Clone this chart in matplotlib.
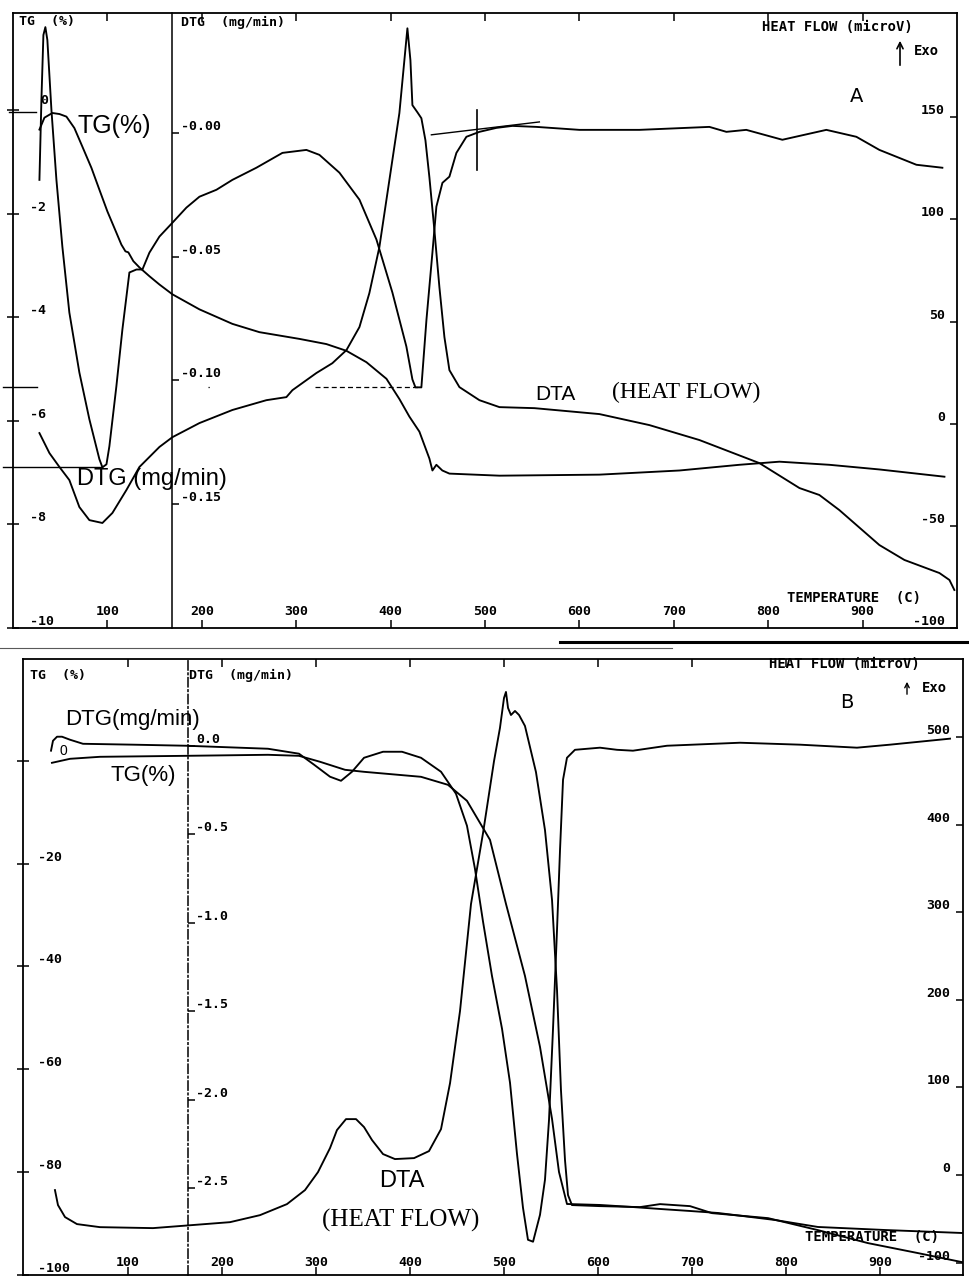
import matplotlib.pyplot as plt
from matplotlib.lines import Line2D
from matplotlib.patches import FancyArrowPatch

plt.rcParams['font.family'] = 'DejaVu Sans Mono'

W, H = 970, 1280

# ---------------- sample A ----------------
a_tg_temp = [28.0, 33.3, 41.7, 49.2, 56.6, 65.0, 73.5, 83.1, 91.5, 100.0, 109.5, 114.8, 119.1,
             122.2, 127.5, 133.9, 144.5, 155.1, 168.9, 197.5, 232.4, 261.0, 303.4, 332.0, 353.2,
             374.4, 395.6, 409.3, 419.9, 430.5, 441.1, 444.3, 448.5, 454.8, 462.3, 515.3, 621.2,
             706.0, 769.5, 811.9, 864.8, 917.8, 986.7]
a_tg = [-0.38, -0.15, -0.06, -0.08, -0.13, -0.35, -0.71, -1.12, -1.54, -1.96, -2.37, -2.60, -2.73,
        -2.75, -2.92, -3.04, -3.21, -3.37, -3.56, -3.85, -4.13, -4.29, -4.42, -4.52, -4.65,
        -4.87, -5.19, -5.58, -5.92, -6.21, -6.73, -6.96, -6.85, -6.96, -7.02, -7.06, -7.04,
        -6.96, -6.85, -6.79, -6.85, -6.94, -7.08]

a_dtg_temp = [28.0, 30.1, 32.2, 34.3, 36.4, 40.7, 46.0, 52.3, 59.7, 70.3, 80.9, 91.5, 94.7, 99.0,
              102.1, 109.5, 115.9, 123.3, 130.8, 137.1, 144.5, 155.1, 168.9, 183.7, 197.5, 215.5,
              232.4, 257.8, 285.4, 310.8, 324.6, 345.8, 367.0, 385.0, 401.9, 416.7, 423.1, 426.3,
              432.6, 438.0, 444.3, 448.5, 454.9, 462.3, 469.7, 480.3, 494.1, 512.1, 529.0, 554.4,
              600.0, 663.6, 737.7, 755.7, 776.8, 815.0, 861.6, 893.4, 917.8, 957.0, 984.5]
a_dtg = [-0.0190, 0.0133, 0.0395, 0.0427, 0.0375, 0.0093, -0.0190, -0.0460, -0.0726, -0.0968,
         -0.1157, -0.1318, -0.1351, -0.1339, -0.1266, -0.1024, -0.0794, -0.0564, -0.0552, -0.0552,
         -0.0484, -0.0419, -0.0363, -0.0302, -0.0258, -0.0230, -0.0190, -0.0141, -0.0081, -0.0069,
         -0.0089, -0.0161, -0.0270, -0.0431, -0.0645, -0.0863, -0.0996, -0.1028, -0.1028, -0.0754,
         -0.0484, -0.0298, -0.0202, -0.0177, -0.0081, -0.0016, 0.0004, 0.0020, 0.0028, 0.0024,
         0.0012, 0.0012, 0.0024, 0.0004, 0.0012, -0.0028, 0.0012, -0.0016, -0.0069, -0.0129, -0.0141]

a_dta_temp = [28.0, 38.6, 49.2, 59.7, 70.3, 80.9, 94.7, 105.3, 120.1, 133.9, 155.1, 168.9, 197.5,
              232.4, 268.4, 289.6, 296.0, 321.4, 338.3, 353.2, 367.0, 377.5, 388.1, 398.7, 409.3,
              414.6, 417.8, 421.0, 423.1, 428.4, 432.6, 436.9, 441.1, 446.4, 451.7, 457.0, 462.3,
              472.9, 494.1, 515.3, 552.4, 621.2, 674.2, 727.1, 790.7, 833.1, 854.2, 875.4, 917.8,
              944.3, 981.4, 992.0, 997.2]
a_dta = [-4.6, -14.4, -21.2, -27.6, -40.8, -47.2, -48.6, -43.7, -32.5, -21.2, -11.4, -6.6, 0.3,
         6.7, 11.5, 13.0, 16.4, 24.8, 29.6, 36.0, 47.3, 63.9, 86.4, 119.2, 152.0,
         177.9, 193.5, 177.9, 155.9, 152.4, 149.5, 138.7, 120.6, 94.7, 66.8, 42.4, 26.2,
         17.9, 11.5, 8.1, 7.6, 4.7, -0.7, -8.0, -19.3, -31.5, -34.9, -42.3, -59.4,
         -66.7, -73.1, -76.5, -81.4]

# ---------------- sample B ----------------
b_tg_temp = [19.1, 38.3, 70.2, 161.7, 248.9, 281.9, 304.3, 330.9, 351.1, 411.7, 440.4, 460.6,
             485.1, 502.1, 522.3, 538.3, 551.1, 558.5, 567.0, 602.1, 636.2, 666.0, 697.9, 727.7,
             788.3, 834.0, 905.3, 987.2]
b_tg = [-0.39, 0.39, 0.78, 0.97, 1.17, 0.97, -0.19, -1.75, -2.14, -3.11, -4.67, -7.78,
        -15.37, -27.82, -41.83, -55.64, -69.65, -79.96, -86.19, -86.38, -86.77, -87.16, -87.55, -87.94,
        -89.30, -90.66, -91.25, -91.83]

b_dtg_temp = [18.1, 20.2, 24.5, 29.8, 38.3, 52.1, 105.3, 161.7, 248.9, 281.9, 297.9, 314.9, 326.6,
              338.3, 351.1, 371.3, 391.5, 411.7, 433.0, 448.9, 460.6, 469.1, 477.7, 487.2, 497.9,
              506.4, 513.8, 520.2, 525.5, 530.9, 538.3, 543.6, 547.9, 552.1, 556.4, 559.6, 562.8,
              567.0, 575.5, 602.1, 620.2, 637.2, 673.4, 751.1, 814.9, 875.5, 910.6, 974.5]
b_dtg = [-0.028, 0.028, 0.051, 0.051, 0.034, 0.011, 0.006, 0.0, -0.017, -0.045, -0.107, -0.175, -0.198,
         -0.147, -0.068, -0.034, -0.034, -0.068, -0.147, -0.271, -0.452, -0.695, -0.994, -1.300, -1.599,
         -1.904, -2.305, -2.610, -2.791, -2.802, -2.650, -2.452, -2.113, -1.605, -1.040, -0.588, -0.192,
         -0.068, -0.023, -0.011, -0.023, -0.028, 0.0, 0.017, 0.006, -0.011, 0.006, 0.040]

b_dta_temp = [22.3, 25.5, 33.0, 45.7, 70.2, 126.6, 208.5, 240.4, 269.1, 288.3, 302.1, 314.9, 322.3,
              331.9, 342.6, 351.1, 359.6, 371.3, 384.0, 404.3, 420.2, 433.0, 442.6, 453.2, 464.9,
              477.7, 489.4, 495.7, 500.0, 502.1, 504.3, 507.4, 511.7, 516.0, 522.3, 534.0, 543.6,
              551.1, 556.4, 560.6, 564.9, 568.1, 572.3, 602.1, 644.7, 666.0, 697.9, 721.3, 780.9,
              834.0, 887.2, 940.4, 987.2]
b_dta = [-17.1, -34.2, -47.9, -55.9, -59.4, -60.5, -53.7, -45.7, -33.1, -17.1, 3.4, 30.8, 51.4,
         63.9, 63.9, 54.8, 40.0, 24.0, 18.3, 19.4, 27.4, 52.5, 105.0, 187.2, 309.4,
         390.4, 472.6, 510.3, 544.5, 551.4, 533.1, 525.1, 529.7, 525.1, 512.6, 460.0, 393.8,
         313.9, 211.2, 97.0, 17.1, -22.8, -34.2, -35.4, -36.5, -33.1, -35.4, -43.4, -49.1,
         -62.8, -77.6, -89.0, -99.3]

temp_ticks = [100, 200, 300, 400, 500, 600, 700, 800, 900]

a_tg_ticks = [-10, -8, -6, -4, -2, 0]
a_tg_labels = ['-10', '-8', '-6', '-4', '-2', '']
a_dtg_ticks = [0.0, -0.05, -0.10, -0.15]
a_dtg_labels = ['-0.00', '-0.05', '-0.10', '-0.15']
a_hf_ticks = [-100, -50, 0, 50, 100, 150]

b_tg_ticks = [-100, -80, -60, -40, -20, 0]
b_tg_labels = ['-100', '-80', '-60', '-40', '-20', '']
b_dtg_ticks = [0.0, -0.5, -1.0, -1.5, -2.0, -2.5]
b_dtg_labels = ['0.0', '-0.5', '-1.0', '-1.5', '-2.0', '-2.5']
b_hf_ticks = [-100, 0, 100, 200, 300, 400, 500]

LAB = dict(fontsize=9.5, fontweight='bold', family='DejaVu Sans Mono')
LW = 1.35

fig = plt.figure(figsize=(W / 100, H / 100), dpi=100)
fig.patch.set_facecolor('white')


def px_text(x, y, s, **kw):
    kw.setdefault('ha', 'left')
    kw.setdefault('va', 'center')
    fig.text(x / W, 1 - y / H, s, **kw)


def panel(left, top, right, bottom, xlim, tg_lim, dtg_lim, hf_lim, dtg_at, dtg_ls,
          tg_ticks, tg_labels, dtg_ticks, dtg_labels, hf_ticks, pads):
    ax = fig.add_axes([left / W, 1 - bottom / H, (right - left) / W, (bottom - top) / H])
    ax.set_xlim(*xlim)
    ax.set_ylim(*tg_lim)
    for s in ax.spines.values():
        s.set_linewidth(1.3)

    axd = ax.twinx()
    axd.set_ylim(*dtg_lim)
    for s in axd.spines.values():
        s.set_visible(False)
    axd.spines['left'].set_visible(True)
    axd.spines['left'].set_position(('data', dtg_at))
    axd.spines['left'].set_linestyle(dtg_ls)
    axd.spines['left'].set_linewidth(1.1)
    axd.yaxis.set_ticks_position('left')

    axh = ax.twinx()
    axh.set_ylim(*hf_lim)
    for s in axh.spines.values():
        s.set_visible(False)

    ax.set_xticks(temp_ticks, [str(t) for t in temp_ticks], va='bottom', **LAB)
    ax.tick_params(axis='x', direction='in', length=6, width=1.1, pad=pads[0], top=True)
    ax.set_yticks(tg_ticks, tg_labels, ha='left', va='bottom', **LAB)
    ax.tick_params(axis='y', direction='inout', length=8, width=1.1, pad=pads[1])
    axd.set_yticks(dtg_ticks, dtg_labels, ha='left', va='bottom', **LAB)
    axd.tick_params(axis='y', direction='in', length=5, width=1.1, pad=pads[2])
    axh.set_yticks(hf_ticks, [str(v) for v in hf_ticks], ha='right', va='bottom', **LAB)
    axh.tick_params(axis='y', direction='in', length=5, width=1.1, pad=pads[3])
    return ax, axd, axh


# ---------------- panel A ----------------
ax, axd, axh = panel(13, 13, 957, 628, (0, 1000), (-10, 1.87), (-0.2, 0.0484), (-100, 201),
                     168.9, '-', a_tg_ticks, a_tg_labels,
                     a_dtg_ticks, a_dtg_labels, a_hf_ticks, (-7, -16, -6.5, -8.5))
ax.plot(a_tg_temp, a_tg, color='k', lw=LW)
axd.plot(a_dtg_temp, a_dtg, color='k', lw=LW)
axh.plot(a_dta_temp, a_dta, color='k', lw=LW)

# peak level markers and onset construction
axd.plot([-11, 94.7], [-0.1351, -0.1351], color='k', lw=1.0, clip_on=False)
axd.plot([-11, 25], [-0.1028, -0.1028], color='k', lw=1.0, clip_on=False)
axd.plot([320, 432.6], [-0.1028, -0.1028], color='k', lw=0.9, ls=(0, (4, 2.5)))
axd.plot([207, 224], [-0.1028, -0.1028], color='k', lw=0.9, ls=(0, (1, 12)))
ax.plot([-3.8, 24.8], [-0.04, -0.04], color='k', lw=1.0, clip_on=False)
axd.plot([443.2, 557.6], [-0.0008, 0.0044], color='k', lw=1.0)
axd.plot([492.0, 492.0], [-0.0149, 0.0093], color='k', lw=1.2)

px_text(19, 22, 'TG  (%)', **LAB)
px_text(181, 22, 'DTG  (mg/min)', **LAB)
px_text(40, 100, '0', **LAB)
px_text(762, 27, 'HEAT FLOW (microV)', fontsize=10, fontweight='bold')
px_text(914, 51, 'Exo', fontsize=10, fontweight='bold')
fig.add_artist(FancyArrowPatch((900 / W, 1 - 68 / H), (900 / W, 1 - 38 / H),
                               transform=fig.transFigure, arrowstyle='->',
                               mutation_scale=11, lw=1.2, color='k'))
px_text(857, 97, 'A', fontsize=14, family='DejaVu Sans', ha='center')
px_text(787, 598, 'TEMPERATURE  (C)', fontsize=10, fontweight='bold')

px_text(78, 126, 'TG(%)', fontsize=18, family='Liberation Sans')
px_text(77, 479, 'DTG (mg/min)', fontsize=17, family='Liberation Sans')
px_text(535, 395, 'DTA', fontsize=15, family='Liberation Sans')
px_text(612, 392, '(HEAT FLOW)', fontsize=17, family='Liberation Serif')

# ---------------- panel B ----------------
ax, axd, axh = panel(23, 659, 963, 1275, (-11.7, 988.3), (-100, 19.8), (-2.99, 0.49), (-114, 589),
                     163.8, (0, (6, 2, 1, 2)), b_tg_ticks, b_tg_labels,
                     b_dtg_ticks, b_dtg_labels, b_hf_ticks, (-4, -15, -6, -9))
ax.plot(b_tg_temp, b_tg, color='k', lw=LW)
axd.plot(b_dtg_temp, b_dtg, color='k', lw=LW)
axh.plot(b_dta_temp, b_dta, color='k', lw=LW)

px_text(30, 676, 'TG  (%)', **LAB)
px_text(189, 675, 'DTG  (mg/min)', **LAB)
px_text(769, 664, 'HEAT FLOW (microV)', fontsize=10, fontweight='bold')
px_text(922, 688, 'Exo', fontsize=10, fontweight='bold')
fig.add_artist(FancyArrowPatch((907 / W, 1 - 697 / H), (907 / W, 1 - 679 / H),
                               transform=fig.transFigure, arrowstyle='->',
                               mutation_scale=8, lw=1.0, color='k'))
px_text(847, 703, 'B', fontsize=14, family='DejaVu Sans', ha='center')
px_text(805, 1237, 'TEMPERATURE  (C)', fontsize=10, fontweight='bold')

px_text(65, 720, 'DTG(mg/min)', fontsize=16, family='Liberation Sans')
px_text(111, 776, 'TG(%)', fontsize=16, family='Liberation Sans')
px_text(60, 751, '0', fontsize=10, family='Liberation Sans')
px_text(379, 1181, 'DTA', fontsize=17, family='Liberation Sans')
px_text(322, 1220, '(HEAT FLOW)', fontsize=18, family='Liberation Serif')

# strip between the two recordings
fig.add_artist(Line2D([0, 672 / W], [1 - 648 / H] * 2, color='0.35', lw=0.8))
fig.add_artist(Line2D([560 / W, 1], [1 - 642 / H] * 2, color='k', lw=2.2))

fig.savefig('out.png', dpi=100, facecolor='white')
